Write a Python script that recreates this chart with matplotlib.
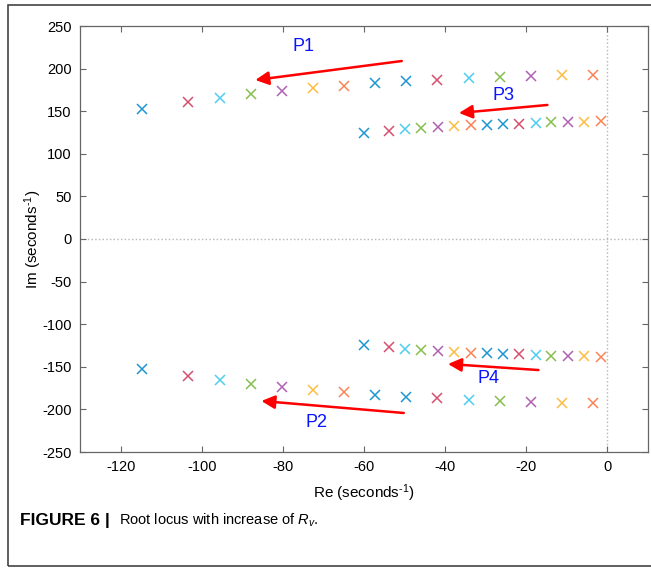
import numpy as np
import matplotlib
matplotlib.use('Agg')
import matplotlib.pyplot as plt
from matplotlib.patches import Rectangle

plt.rcParams['font.family'] = ['Liberation Sans', 'DejaVu Sans']
plt.rcParams['mathtext.fontset'] = 'custom'
plt.rcParams['mathtext.rm'] = 'Liberation Sans'
plt.rcParams['mathtext.it'] = 'Liberation Sans:italic'
plt.rcParams['axes.unicode_minus'] = False

# Outer branch (P1 upper, P2 lower)
re_outer = [-114.8, -103.3, -95.6, -87.8, -80.2, -72.6, -64.9, -57.3, -49.6,
            -41.9, -34.2, -26.6, -18.9, -11.3, -3.6]
im_p1 = [152.6, 160.8, 165.5, 170.2, 173.7, 176.9, 180.0, 183.1, 185.4,
         186.6, 188.6, 190.3, 191.5, 192.1, 192.5]
im_p2 = [-152.6, -160.8, -165.5, -170.2, -173.7, -176.9, -180.0, -183.1, -185.4,
         -186.6, -188.6, -190.3, -191.5, -192.1, -192.5]

# Inner branch (P3 upper, P4 lower)
re_inner = [-60.0, -53.8, -49.9, -46.0, -41.8, -37.9, -33.7, -29.8, -25.8,
            -21.9, -17.7, -13.8, -9.8, -5.7, -1.7]
im_p3 = [124.4, 126.8, 129.1, 130.3, 131.5, 132.6, 133.8, 134.2, 135.0,
         135.3, 136.5, 137.0, 137.0, 137.7, 138.1]
im_p4 = [-124.4, -126.8, -129.1, -130.3, -131.5, -132.6, -133.8, -134.2, -135.0,
         -135.3, -136.5, -137.0, -137.0, -137.7, -138.1]

# marker colours, left to right
point_colors = ['#1e96d2', '#d5506d', '#4fcdf0', '#86bf4c', '#b061b4', '#fdbd45',
                '#fb8456', '#1e96d2', '#1e96d2', '#d5506d', '#4fcdf0', '#86bf4c',
                '#b061b4', '#fdbd45', '#fb8456']

fig = plt.figure(figsize=(6.51, 5.69), dpi=100)
ax = fig.add_axes([80/651, 117/569, 568/651, 426/569])

# zero lines
ax.axhline(0, color='#b5b5b5', lw=1, ls=':', zorder=0)
ax.axvline(0, color='#b5b5b5', lw=1, ls=':', zorder=0)

for xs, ys in [(re_outer, im_p1), (re_outer, im_p2), (re_inner, im_p3), (re_inner, im_p4)]:
    for xv, yv, c in zip(xs, ys, point_colors):
        ax.plot(xv, yv, 'x', color=c, markersize=6.5, markeredgewidth=1.1)

# arrows and labels
arrows = [((-50.7, 208.9), (-86.8, 186.6), 'P1', (-75.0, 225.4)),
          ((-14.8, 157.3), (-36.6, 147.9), 'P3', (-25.6, 169.0)),
          ((-50.2, -204.2), (-85.3, -190.1), 'P2', (-71.6, -214.8)),
          ((-17.0, -153.8), (-39.3, -146.7), 'P4', (-29.3, -164.3))]
for start, end, name, pos in arrows:
    ax.annotate('', xy=end, xytext=start,
                arrowprops=dict(arrowstyle='-|>', color='#ff0000', lw=1.8,
                                mutation_scale=20, shrinkA=0, shrinkB=0))
    ax.text(pos[0], pos[1], name, color='#0a14ff', fontsize=13,
            ha='center', va='center')

ax.set_xlim(-130, 10)
ax.set_ylim(-250, 250)
ax.set_xticks(np.arange(-120, 1, 20))
ax.set_yticks(np.arange(-250, 251, 50))
ax.tick_params(direction='in', length=4, width=0.8, color='#666666',
               top=True, right=True, labelsize=10.5, pad=6)
for s in ax.spines.values():
    s.set_color('#666666')
    s.set_linewidth(0.9)

ax.set_xlabel(r'Re (seconds$^{\text{-1}}$)', fontsize=11, labelpad=6)
ax.set_ylabel(r'Im (seconds$^{\text{-1}}$)', fontsize=11, labelpad=-1)

# outer frame of the figure panel
fig.patches.append(Rectangle((8/651, 3/569), 1.0, 561/569, transform=fig.transFigure,
                             fill=False, edgecolor='#444444', lw=1.2))

fig.text(20/651, 1 - 520/569, 'FIGURE 6 |', fontsize=12.5, fontweight='bold',
         va='center', ha='left')
fig.text(119/651, 1 - 520/569, 'Root locus with increase of $R_v$.', fontsize=10.5,
         va='center', ha='left')

fig.savefig('out.png', dpi=100)
